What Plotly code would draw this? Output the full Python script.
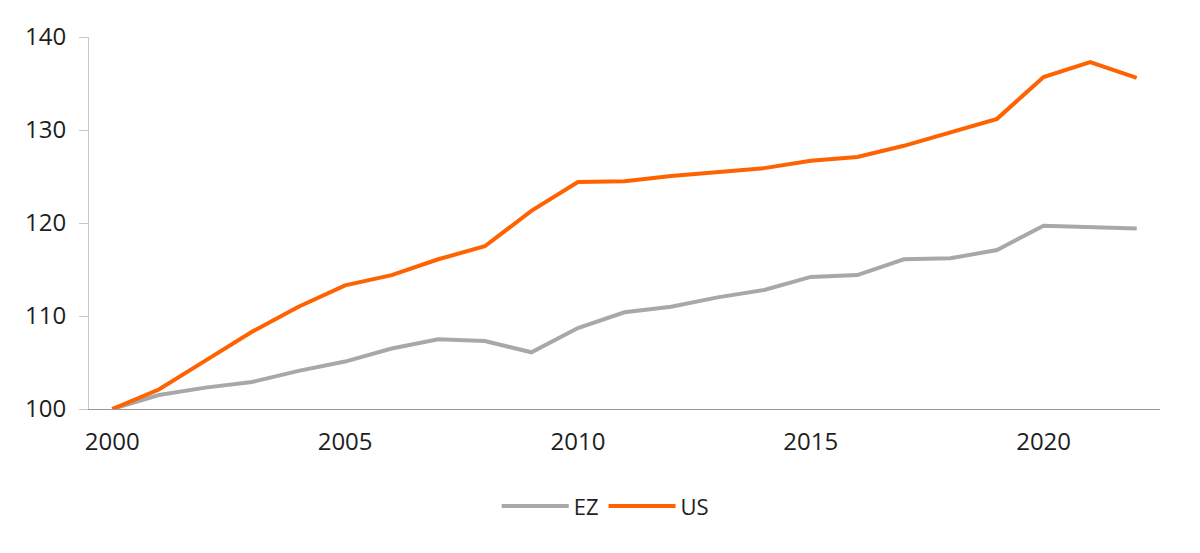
import plotly.graph_objects as go

# index, 2000 = 100
years = list(range(2000, 2023))
ez = [100.0, 101.5, 102.3, 102.9, 104.1, 105.1, 106.5, 107.5, 107.3, 106.1,
      108.7, 110.4, 111.0, 112.0, 112.8, 114.2, 114.4, 116.1, 116.2, 117.1,
      119.7, 119.5, 119.4]
us = [100.0, 102.1, 105.2, 108.3, 111.0, 113.3, 114.4, 116.1, 117.5, 121.3,
      124.4, 124.5, 125.05, 125.5, 125.9, 126.7, 127.1, 128.3, 129.7, 131.2,
      135.7, 137.3, 135.6]
x_ticks = [2000, 2005, 2010, 2015, 2020]
y_ticks = [100, 110, 120, 130, 140]

GREY = '#a8a8a8'
ORANGE = '#ff6200'
FONT = 'Open Sans'

fig = go.Figure()
fig.add_trace(go.Scatter(x=years, y=ez, name='EZ', mode='lines',
                         line=dict(color=GREY, width=4)))
fig.add_trace(go.Scatter(x=years, y=us, name='US', mode='lines',
                         line=dict(color=ORANGE, width=4)))

# the page body adds 8px, so margins are 8px smaller on the left/top
fig.update_layout(
    width=1200, height=553,
    margin=dict(l=81, r=48, t=29, b=152, autoexpand=False),
    plot_bgcolor='white', paper_bgcolor='white',
    font=dict(family=FONT, size=24, color='#1e1e1e'),
    showlegend=True,
    legend=dict(orientation='h', x=0.482, xanchor='center', y=-0.205,
                yanchor='top', font=dict(size=22), itemwidth=67,
                traceorder='normal'),
    hovermode=False,
)
fig.update_xaxes(range=[1999.5, 2022.5], tickvals=x_ticks, ticks='',
                 showgrid=False, zeroline=False, showline=True,
                 linecolor='#999999', linewidth=1, ticklabelstandoff=11,
                 automargin=False)
fig.update_yaxes(range=[100, 140], tickvals=y_ticks, ticks='outside',
                 ticklen=9, tickcolor='#c8c8c8', showgrid=False, zeroline=False,
                 showline=True, linecolor='#c8c8c8', linewidth=1,
                 ticklabelstandoff=8, automargin=False)

fig.write_html('out.html')
